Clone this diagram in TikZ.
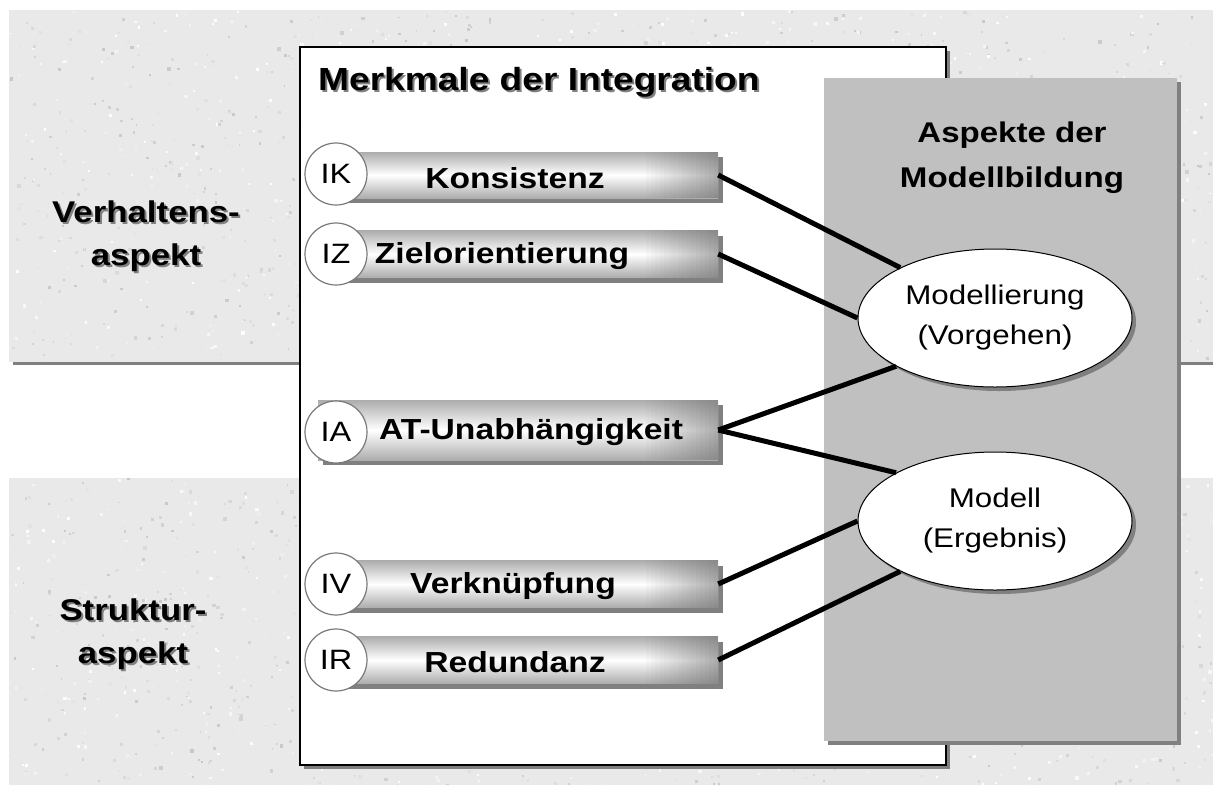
\documentclass[tikz,border=0pt]{standalone}
\usepackage{fontspec}
\setmainfont{Liberation Sans}[FakeStretch=1.16]
\usetikzlibrary{shapes.geometric,shadows}

\definecolor{panelgray}{HTML}{C0C0C0}
\definecolor{shadowgray}{HTML}{808080}
\definecolor{texbase}{HTML}{E9E9E9}
\definecolor{texdark}{HTML}{C8C8C8}
\definecolor{bargray}{HTML}{ADADAD}
\definecolor{barend}{HTML}{707070}
\definecolor{ringgray}{HTML}{7A7A7A}

\tikzset{
  boxshadow/.style={drop shadow={shadow xshift=5pt,shadow yshift=-5pt,fill=shadowgray,opacity=1}},
  barbox/.style={rectangle,minimum width=400pt,inner sep=0pt,
    top color=bargray,bottom color=bargray,middle color=white,boxshadow},
  labring/.style={circle,minimum size=62pt,inner sep=0pt,fill=white,
    draw=ringgray,line width=1.2pt,font=\fontsize{28}{30}\selectfont},
  bartext/.style={inner sep=0pt,font=\bfseries\fontsize{29}{32}\selectfont},
  ellnode/.style={ellipse,draw=black,line width=1pt,fill=white,
    minimum width=274pt,minimum height=138pt,inner sep=0pt,align=center,
    font=\fontsize{27}{40}\selectfont,
    drop shadow={shadow xshift=4pt,shadow yshift=-4pt,fill=shadowgray,opacity=1}},
  conn/.style={line width=5pt,black},
  sidetext/.style={inner sep=0pt,align=center,font=\bfseries\fontsize{30}{43}\selectfont},
}

\begin{document}
\begin{tikzpicture}[x=1pt,y=-1pt]
\useasboundingbox (0,0) rectangle (1213,785);
\fill[white] (0,0) rectangle (1213,785);

% stone-textured bands behind the two aspects
\begin{scope}
  \clip (9,10) rectangle (1213,362) (9,478) rectangle (1213,785);
  \fill[texbase] (9,10) rectangle (1213,785);
  \pgfmathsetseed{7}
  \foreach \i in {1,...,4000}{
    \pgfmathsetmacro\px{9+1204*rnd}
    \pgfmathsetmacro\py{10+775*rnd}
    \pgfmathsetmacro\sh{int(rnd*100)}
    \pgfmathsetmacro\rr{1.5+2*rnd}
    \fill[texdark!\sh!white] (\px,\py) rectangle ++(\rr,\rr);
  }
\end{scope}
\fill[shadowgray] (13,362) rectangle (1213,365);

% side labels
\node[sidetext,shadowgray] (vhs) at (148,238) {Verhaltens-\\aspekt};
\node[sidetext] (vh) at (146,236) {Verhaltens-\\aspekt};
\node[sidetext,shadowgray] (sts) at (135,636) {Struktur-\\aspekt};
\node[sidetext] (st) at (133,634) {Struktur-\\aspekt};

% main frame
\fill[shadowgray] (304,51) rectangle (950,769);
\draw[fill=white,line width=1.5pt] (300,47) rectangle (946,765);

% grey panel
\fill[shadowgray] (828,82) rectangle (1181,745);
\fill[panelgray] (824,78) rectangle (1177,741);

% headings
\node[anchor=west,inner sep=0pt,shadowgray,font=\bfseries\fontsize{32}{36}\selectfont] (ttls) at (320,84) {Merkmale der Integration};
\node[anchor=west,inner sep=0pt,font=\bfseries\fontsize{32}{36}\selectfont] (ttl) at (318,82) {Merkmale der Integration};
\node[align=center,inner sep=0pt,font=\bfseries\fontsize{28.5}{45}\selectfont] (asp) at (1012,158) {Aspekte der\\Modellbildung};

% feature bars, darkening towards their right ends
\node[barbox,minimum height=46pt] (bk) at (518,175) {};
\node[barbox,minimum height=47pt] (bz) at (518,254) {};
\node[barbox,minimum height=60pt] (ba) at (518,430) {};
\node[barbox,minimum height=47pt] (bv) at (518,584) {};
\node[barbox,minimum height=47pt] (br) at (518,660) {};
\foreach \b in {bk,bz,ba,bv,br}{
  \foreach \k in {1,...,16}{
    \fill[barend,fill opacity=0.035*\k]
      ([xshift=-72pt+\k*4.5pt-4.5pt]\b.north east) rectangle ([xshift=-72pt+\k*4.5pt]\b.south east);
  }
}

\node[bartext] (tk) at (515,178) {Konsistenz};
\node[bartext] (tz) at (502,256) {Zielorientierung};
\node[bartext] (ta) at (531,432) {AT-Unabhängigkeit};
\node[bartext] (tv) at (513,586) {Verknüpfung};
\node[bartext] (tr) at (515,662) {Redundanz};

\node[labring] (ck) at (336,174) {IK};
\node[labring] (cz) at (336,254) {IZ};
\node[labring] (ca) at (336,432) {IA};
\node[labring] (cv) at (336,584) {IV};
\node[labring] (cr) at (336,660) {IR};

% modelling aspects
\node[ellnode] (mv) at (995,318) {Modellierung\\(Vorgehen)};
\node[ellnode] (me) at (995,521) {Modell\\(Ergebnis)};

% connectors
\draw[conn] (bk.east) -- (mv.152.5);
\draw[conn] (bz.east) -- (mv.180);
\draw[conn] (ba.east) -- (mv.206.6);
\draw[conn] (ba.east) -- (me.154.9);
\draw[conn] (bv.east) -- (me.180);
\draw[conn] (br.east) -- (me.208.4);
\end{tikzpicture}
\end{document}
